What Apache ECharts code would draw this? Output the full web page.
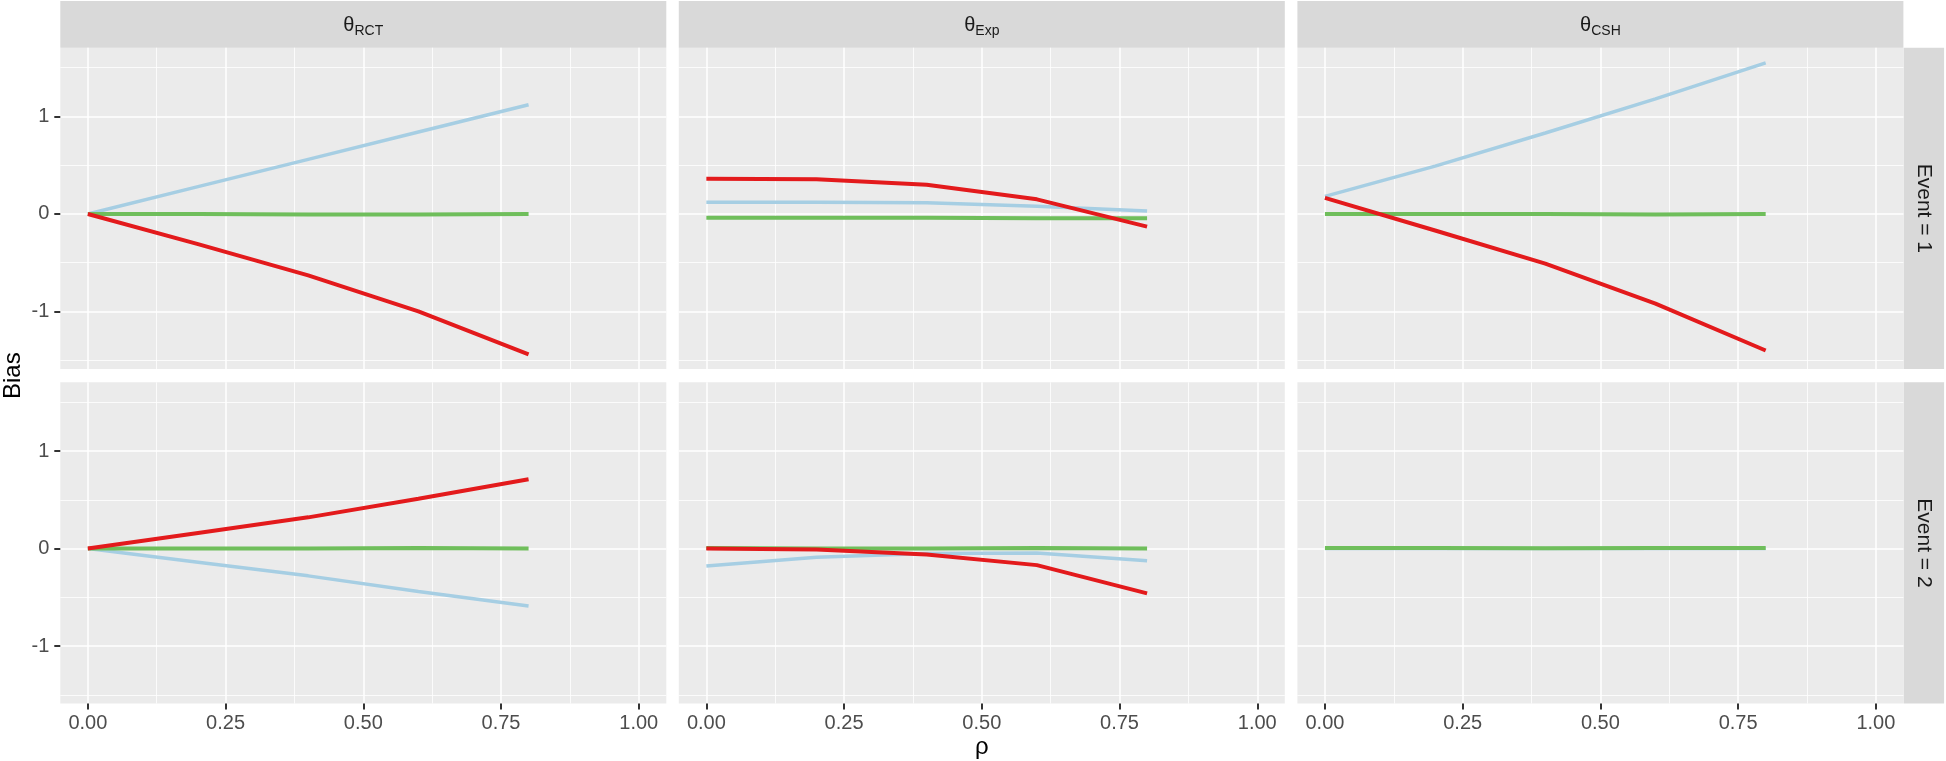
<!DOCTYPE html>
<html>
<head>
<meta charset="utf-8">
<script src="https://cdn.jsdelivr.net/npm/echarts@6/dist/echarts.min.js"></script>
<style>
  html, body { margin: 0; padding: 0; background: #fff; }
  #chart { width: 1946px; height: 761px; }
</style>
</head>
<body>
<div id="chart"></div>
<script>
  // rho values where each curve was evaluated
  var rho = [0, 0.2, 0.4, 0.6, 0.8]

  // Event = 1
  var e1RctBlue = [0, 0.28, 0.56, 0.84, 1.12]
  var e1RctGreen = [0, 0, -0.005, -0.005, 0]
  var e1RctRed = [0, -0.31, -0.63, -1.0, -1.44]
  var e1ExpBlue = [0.12, 0.12, 0.115, 0.08, 0.03]
  var e1ExpGreen = [-0.04, -0.04, -0.04, -0.045, -0.045]
  var e1ExpRed = [0.36, 0.355, 0.30, 0.15, -0.13]
  var e1CshBlue = [0.18, 0.49, 0.83, 1.18, 1.55]
  var e1CshGreen = [0, 0, 0, -0.005, 0]
  var e1CshRed = [0.165, -0.17, -0.51, -0.92, -1.40]

  // Event = 2 (no red curve visible for CSH)
  var e2RctBlue = [0, -0.14, -0.28, -0.44, -0.59]
  var e2RctGreen = [0, 0, 0, 0.005, 0]
  var e2RctRed = [0, 0.16, 0.32, 0.51, 0.71]
  var e2ExpBlue = [-0.18, -0.09, -0.05, -0.045, -0.125]
  var e2ExpGreen = [0.005, 0, 0, 0.005, 0]
  var e2ExpRed = [0, -0.01, -0.06, -0.17, -0.46]
  var e2CshBlue = [0, 0, 0, 0, 0]
  var e2CshGreen = [0.006, 0.006, 0.003, 0.006, 0.006]
  var e2CshRed = []

  var colLabels = ['RCT', 'Exp', 'CSH']
  var rowLabels = ['Event = 1', 'Event = 2']
  var xMajor = [0, 0.25, 0.5, 0.75, 1]
  var xMinor = [0.125, 0.375, 0.625, 0.875]
  var yMajor = [-1, 0, 1]
  var yMinor = [-1.5, -0.5, 0.5, 1.5]

  var panels = [
    [[e1RctBlue, e1RctGreen, e1RctRed], [e1ExpBlue, e1ExpGreen, e1ExpRed], [e1CshBlue, e1CshGreen, e1CshRed]],
    [[e2RctBlue, e2RctGreen, e2RctRed], [e2ExpBlue, e2ExpGreen, e2ExpRed], [e2CshBlue, e2CshGreen, e2CshRed]]
  ]
  var colors = ['#A6CEE3', '#6FBE5B', '#E31A1C']
  var widths = [3.5, 4, 4]

  // layout
  var colLeft = [60.3, 678.8, 1297.4]
  var panelW = 606
  var rowTop = [47.7, 382.3]
  var panelH = 321.3
  var stripTop = 1
  var stripR = 1903.6
  var stripW = 40.5
  var font = '"Liberation Sans", Arial, sans-serif'

  function pairs(ys) {
    return ys.map(function (y, i) { return [rho[i], y] })
  }

  var grids = [], xAxes = [], yAxes = [], series = [], graphics = []
  panels.forEach(function (row, r) {
    row.forEach(function (cell, c) {
      var p = r * 3 + c
      var isBottom = r === 1, isLeft = c === 0
      grids.push({
        left: colLeft[c], top: rowTop[r], width: panelW, height: panelH,
        show: true, backgroundColor: '#EBEBEB', borderWidth: 0
      })
      // major axes (ticks, labels, major grid)
      xAxes.push({
        type: 'value', gridIndex: p, min: -0.05, max: 1.05,
        axisLine: {show: false, onZero: false},
        axisTick: {show: isBottom, length: 6, customValues: xMajor, lineStyle: {color: '#333333', width: 2}},
        axisLabel: {show: isBottom, customValues: xMajor, margin: 10, fontSize: 20, color: '#4D4D4D', fontFamily: font,
          formatter: function (v) { return v.toFixed(2) }},
        splitLine: {show: true, lineStyle: {color: '#FFFFFF', width: 1.5}}
      })
      yAxes.push({
        type: 'value', gridIndex: p, min: -1.59, max: 1.705,
        axisLine: {show: false, onZero: false},
        axisTick: {show: isLeft, length: 6, customValues: yMajor, lineStyle: {color: '#333333', width: 2}},
        axisLabel: {show: isLeft, customValues: yMajor, margin: 11, fontSize: 20, color: '#4D4D4D', fontFamily: font},
        splitLine: {show: true, lineStyle: {color: '#FFFFFF', width: 1.5}}
      })
      cell.forEach(function (ys, k) {
        series.push({
          type: 'line', xAxisIndex: p, yAxisIndex: p, data: pairs(ys),
          showSymbol: false, silent: true, z: 2 + k,
          lineStyle: {color: colors[k], width: widths[k]}
        })
      })
    })
  })
  // minor grid axes, appended after the major ones
  grids.forEach(function (g, p) {
    xAxes.push({
      type: 'value', gridIndex: p, min: -0.05, max: 1.05, position: 'top',
      axisLine: {show: false, onZero: false},
      axisTick: {show: false, customValues: xMinor},
      axisLabel: {show: false, customValues: xMinor},
      splitLine: {show: true, lineStyle: {color: '#FFFFFF', width: 0.8}}
    })
    yAxes.push({
      type: 'value', gridIndex: p, min: -1.59, max: 1.705, position: 'right',
      axisLine: {show: false, onZero: false},
      axisTick: {show: false, customValues: yMinor},
      axisLabel: {show: false, customValues: yMinor},
      splitLine: {show: true, lineStyle: {color: '#FFFFFF', width: 0.8}}
    })
  })

  // column strips
  colLabels.forEach(function (lab, c) {
    graphics.push({type: 'rect', shape: {x: colLeft[c], y: stripTop, width: panelW, height: rowTop[0] - stripTop},
      style: {fill: '#D9D9D9'}, silent: true})
    graphics.push({type: 'text', x: colLeft[c] + panelW / 2, y: (stripTop + rowTop[0]) / 2 + 1,
      style: {text: '{t|θ}{s|' + lab + '}', align: 'center', verticalAlign: 'middle', fill: '#1A1A1A',
        rich: {
          t: {fontSize: 20, lineHeight: 26, fontFamily: font, fill: '#1A1A1A', verticalAlign: 'middle'},
          s: {fontSize: 14, lineHeight: 16, fontFamily: font, fill: '#1A1A1A', verticalAlign: 'bottom'}
        }}, silent: true})
  })
  // row strips
  rowLabels.forEach(function (lab, r) {
    graphics.push({type: 'rect', shape: {x: stripR, y: rowTop[r], width: stripW, height: panelH},
      style: {fill: '#D9D9D9'}, silent: true})
    graphics.push({type: 'text', x: stripR + stripW / 2, y: rowTop[r] + panelH / 2, rotation: -Math.PI / 2,
      style: {text: lab, align: 'center', verticalAlign: 'middle', fill: '#1A1A1A', fontSize: 21, fontFamily: font},
      silent: true})
  })
  // axis titles
  graphics.push({type: 'text', x: 13, y: (rowTop[0] + rowTop[1] + panelH) / 2, rotation: Math.PI / 2,
    style: {text: 'Bias', align: 'center', verticalAlign: 'middle', fill: '#000', fontSize: 24, fontFamily: font}})
  graphics.push({type: 'text', x: (colLeft[0] + colLeft[2] + panelW) / 2, y: 747,
    style: {text: 'ρ', align: 'center', verticalAlign: 'middle', fill: '#000', fontSize: 24, fontFamily: font}})

  var chart = echarts.init(document.getElementById('chart'))
  chart.setOption({
    animation: false,
    grid: grids,
    xAxis: xAxes,
    yAxis: yAxes,
    series: series,
    graphic: graphics
  })
</script>
</body>
</html>
